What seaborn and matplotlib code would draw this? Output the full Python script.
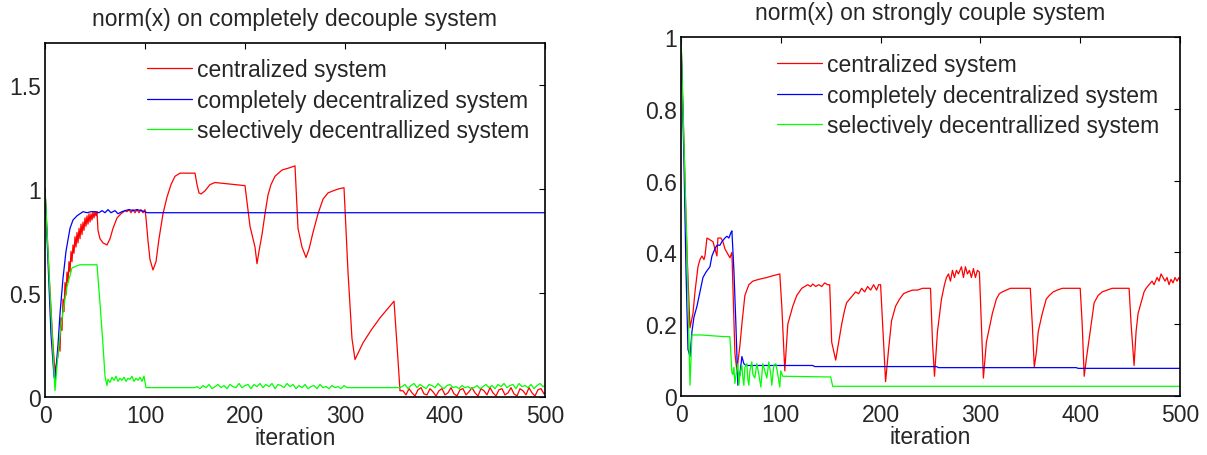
import numpy as np
import pandas as pd
import matplotlib
matplotlib.use("Agg")
import matplotlib.pyplot as plt
import seaborn as sns

# ---------------------------------------------------------------- data
labels = ["centralized system",
          "completely decentralized system",
          "selectively decentrallized system"]
colors = ["#ff0000", "#0000ff", "#00ff00"]

# ---- completely decoupled system -------------------------------------
dec_red_x = [0, 4, 8, 10, 13, 14, 15, 16, 17, 18, 19, 20, 21, 22, 23, 24, 25, 26,
             27, 28, 29, 30, 31, 32, 33, 34, 35, 36, 37, 38, 39, 40, 41, 42, 43,
             44, 45, 46, 47, 48, 49, 50, 51, 52, 53, 55, 58, 62, 65, 68, 72, 76,
             80, 82, 84, 86, 88, 90, 92, 94, 96, 98, 100, 101, 103, 105, 108,
             111, 114, 118, 122, 126, 130, 135, 150, 152, 154, 156, 160, 165,
             170, 180, 190, 200, 203, 205, 208, 210, 212, 214, 217, 220, 223,
             226, 230, 237, 244, 250, 253, 257, 261, 264, 268, 273, 278, 283,
             288, 294, 299, 303, 307, 310, 314, 318, 326, 335, 342, 349, 352, 355]
dec_red_y = [1.0, 0.6, 0.25, 0.12, 0.2, 0.27, 0.22, 0.38, 0.32, 0.47, 0.41, 0.55,
             0.49, 0.6, 0.55, 0.65, 0.6, 0.7, 0.65, 0.73, 0.69, 0.77, 0.72, 0.79,
             0.74, 0.81, 0.76, 0.83, 0.78, 0.84, 0.8, 0.86, 0.82, 0.87, 0.83, 0.88,
             0.84, 0.88, 0.85, 0.89, 0.86, 0.89, 0.87, 0.89, 0.8, 0.76, 0.74, 0.73,
             0.76, 0.81, 0.86, 0.88, 0.895, 0.89, 0.9, 0.885, 0.9, 0.885, 0.9,
             0.885, 0.9, 0.885, 0.9, 0.86, 0.75, 0.66, 0.61, 0.65, 0.76, 0.88,
             0.96, 1.02, 1.06, 1.075, 1.075, 1.02, 0.98, 0.975, 0.99, 1.02, 1.03,
             1.025, 1.02, 1.015, 0.9, 0.82, 0.76, 0.72, 0.64, 0.7, 0.78, 0.88,
             0.97, 1.02, 1.06, 1.09, 1.1, 1.11, 0.81, 0.72, 0.67, 0.71, 0.79,
             0.88, 0.95, 0.98, 0.99, 1.0, 1.005, 0.6, 0.28, 0.18, 0.22, 0.26,
             0.32, 0.38, 0.42, 0.46, 0.25, 0.03]
# red ripple after iteration 355 (every 3rd iteration from 358)
dec_red_tail = [0.03, 0.01, 0.04, 0.02, 0.005, 0.035, 0.045, 0.015, 0.01, 0.04,
                0.025, 0.005, 0.03, 0.04, 0.01, 0.02, 0.045, 0.015, 0.005, 0.035,
                0.04, 0.01, 0.025, 0.045, 0.02, 0.005, 0.04, 0.03, 0.01, 0.045,
                0.02, 0.005, 0.035, 0.04, 0.01, 0.02, 0.045, 0.015, 0.005, 0.04,
                0.03, 0.01, 0.045, 0.02, 0.005, 0.035, 0.04, 0.015]

dec_blue_x = [0, 3, 6, 9, 10, 13, 15, 18, 21, 25, 28, 32, 35, 38, 42, 46, 50, 54,
              57, 60, 63, 66, 70, 73, 77, 80, 84, 88, 92, 96, 100, 102, 500]
dec_blue_y = [1.0, 0.65, 0.3, 0.1, 0.08, 0.25, 0.4, 0.57, 0.7, 0.81, 0.85, 0.87,
              0.88, 0.89, 0.885, 0.89, 0.89, 0.885, 0.895, 0.885, 0.9, 0.885,
              0.895, 0.88, 0.89, 0.895, 0.9, 0.895, 0.9, 0.895, 0.89, 0.885, 0.885]

dec_green_x = [0, 5, 10, 12, 15, 18, 22, 27, 32, 35, 52, 55, 58, 60, 62]
dec_green_y = [1.0, 0.5, 0.03, 0.15, 0.3, 0.41, 0.53, 0.62, 0.63, 0.635, 0.635,
               0.45, 0.25, 0.1, 0.055]
# chatter between 63 and 99 (every 2nd iteration)
dec_green_chatter1 = [0.085, 0.07, 0.095, 0.08, 0.1, 0.075, 0.09, 0.08, 0.095,
                      0.075, 0.09, 0.085, 0.1, 0.075, 0.09, 0.08, 0.095, 0.075, 0.1]
# chatter between 152 and 302 (every 3rd iteration)
dec_green_chatter2 = [0.05, 0.04, 0.055, 0.045, 0.06, 0.04, 0.05, 0.06, 0.045,
                      0.055, 0.04, 0.06, 0.05, 0.045, 0.065, 0.045, 0.055, 0.06,
                      0.04, 0.06, 0.05, 0.065, 0.045, 0.06, 0.05, 0.065, 0.04,
                      0.06, 0.055, 0.045, 0.065, 0.05, 0.06, 0.04, 0.055, 0.045,
                      0.06, 0.04, 0.05, 0.055, 0.04, 0.06, 0.045, 0.05, 0.04,
                      0.055, 0.045, 0.05, 0.04, 0.055, 0.045]
# chatter from 357 to the end (every 3rd iteration)
dec_green_chatter3 = [0.05, 0.06, 0.04, 0.055, 0.065, 0.045, 0.06, 0.05, 0.04,
                      0.06, 0.055, 0.045, 0.065, 0.05, 0.04, 0.055, 0.06, 0.045,
                      0.05, 0.04, 0.055, 0.045, 0.05, 0.04, 0.045, 0.055, 0.04,
                      0.05, 0.06, 0.045, 0.055, 0.04, 0.06, 0.05, 0.065, 0.045,
                      0.055, 0.06, 0.04, 0.065, 0.05, 0.055, 0.045, 0.06, 0.04,
                      0.055, 0.065, 0.05]

# ---- strongly coupled system -----------------------------------------
cpl_red_x = [0, 3, 6, 9, 12, 14, 17, 19, 21, 23, 24, 26, 29, 32, 34, 36, 37, 40,
             42, 44, 46, 49, 51, 54, 56, 59, 61, 64, 68, 72, 78, 86, 92, 99, 101,
             104, 107, 109, 112, 116, 121, 124, 127, 130, 132, 135, 138, 141, 144,
             147, 149, 151, 155, 158, 161, 164, 166, 169, 172, 175, 178, 181, 184,
             187, 190, 193, 196, 198, 200, 203, 205, 208, 211, 215, 219, 223, 227,
             232, 237, 242, 246, 250, 252, 254, 257, 261, 264, 266, 268, 270, 272,
             274, 276, 278, 281, 283, 285, 287, 289, 291, 293, 295, 297, 299, 301,
             303, 306, 309, 312, 316, 319, 322, 326, 330, 336, 343, 350, 352, 354,
             356, 358, 362, 366, 369, 373, 377, 382, 388, 394, 400, 402, 404, 406,
             409, 412, 414, 418, 422, 427, 432, 440, 449, 451, 454, 456, 458, 461,
             464, 466, 469, 472, 474, 477, 479, 481, 483, 485, 487, 489, 491, 493,
             495, 497, 499, 500]
cpl_red_y = [1.0, 0.7, 0.4, 0.19, 0.23, 0.29, 0.36, 0.38, 0.39, 0.38, 0.39, 0.44,
             0.435, 0.43, 0.41, 0.39, 0.44, 0.44, 0.43, 0.41, 0.4, 0.385, 0.4,
             0.12, 0.07, 0.14, 0.2, 0.28, 0.31, 0.32, 0.325, 0.33, 0.335, 0.34,
             0.25, 0.07, 0.2, 0.22, 0.25, 0.28, 0.3, 0.305, 0.31, 0.305, 0.312,
             0.305, 0.31, 0.305, 0.315, 0.31, 0.31, 0.15, 0.1, 0.15, 0.2, 0.24,
             0.26, 0.27, 0.28, 0.29, 0.285, 0.3, 0.29, 0.305, 0.295, 0.31, 0.295,
             0.31, 0.31, 0.15, 0.04, 0.13, 0.21, 0.25, 0.27, 0.285, 0.29, 0.295,
             0.295, 0.3, 0.3, 0.3, 0.15, 0.055, 0.18, 0.27, 0.31, 0.33, 0.34,
             0.32, 0.35, 0.33, 0.35, 0.34, 0.36, 0.33, 0.36, 0.34, 0.35, 0.33,
             0.355, 0.33, 0.35, 0.345, 0.2, 0.05, 0.15, 0.19, 0.23, 0.27, 0.285,
             0.29, 0.295, 0.3, 0.3, 0.3, 0.3, 0.2, 0.08, 0.12, 0.18, 0.23, 0.27,
             0.28, 0.29, 0.295, 0.3, 0.3, 0.3, 0.3, 0.2, 0.055, 0.1, 0.16, 0.22,
             0.26, 0.28, 0.29, 0.295, 0.3, 0.3, 0.3, 0.2, 0.085, 0.18, 0.23, 0.26,
             0.29, 0.3, 0.31, 0.32, 0.31, 0.33, 0.32, 0.34, 0.33, 0.32, 0.33,
             0.31, 0.325, 0.315, 0.33, 0.32, 0.33, 0.32]

cpl_blue_x = [0, 3, 5, 7, 9, 11, 13, 16, 19, 22, 25, 29, 31, 34, 36, 39, 41, 44,
              46, 48, 50, 51, 53, 55, 57, 59, 61, 63, 65, 132, 134, 256, 258, 396,
              398, 500]
cpl_blue_y = [1.0, 0.65, 0.35, 0.13, 0.11, 0.18, 0.22, 0.25, 0.29, 0.33, 0.345,
              0.36, 0.39, 0.41, 0.42, 0.42, 0.43, 0.44, 0.445, 0.44, 0.455, 0.46,
              0.35, 0.2, 0.03, 0.06, 0.11, 0.09, 0.085, 0.085, 0.082, 0.082,
              0.079, 0.079, 0.077, 0.077]

cpl_green_x = [0, 3, 6, 9, 11, 20, 30, 40, 49, 51, 52, 53, 54, 55, 57, 58, 59, 61,
               62, 63, 64, 66, 67, 68, 69, 71, 72, 74, 76, 78, 80, 82, 84, 86, 88,
               90, 91, 93, 95, 97, 99, 100, 102, 150, 152, 500]
cpl_green_y = [1.0, 0.7, 0.4, 0.03, 0.17, 0.17, 0.168, 0.166, 0.165, 0.065, 0.06,
               0.08, 0.035, 0.055, 0.09, 0.03, 0.06, 0.085, 0.05, 0.03, 0.08, 0.09,
               0.045, 0.03, 0.07, 0.095, 0.06, 0.05, 0.09, 0.06, 0.025, 0.09, 0.07,
               0.05, 0.095, 0.06, 0.03, 0.085, 0.09, 0.06, 0.025, 0.07, 0.055,
               0.053, 0.027, 0.027]


def stepped(start, step, values):
    """Iteration numbers for values logged every `step` iterations."""
    return [start + step * i for i in range(len(values))]


# assemble the full traces
dec_red = (dec_red_x + stepped(358, 3, dec_red_tail) + [500],
           dec_red_y + dec_red_tail + [0.02])
dec_blue = (dec_blue_x, dec_blue_y)
dec_green = (dec_green_x + stepped(63, 2, dec_green_chatter1)
             + [101, 150] + stepped(152, 3, dec_green_chatter2)
             + [304, 355] + stepped(357, 3, dec_green_chatter3) + [500],
             dec_green_y + dec_green_chatter1 + [0.045, 0.045]
             + dec_green_chatter2 + [0.045, 0.045] + dec_green_chatter3 + [0.055])
cpl_red = (cpl_red_x, cpl_red_y)
cpl_blue = (cpl_blue_x, cpl_blue_y)
cpl_green = (cpl_green_x, cpl_green_y)


def long_frame(traces):
    parts = []
    for name, (xs, ys) in zip(labels, traces):
        parts.append(pd.DataFrame({"iteration": xs, "norm": ys, "series": name}))
    return pd.concat(parts, ignore_index=True)


df_dec = long_frame([dec_red, dec_blue, dec_green])
df_cpl = long_frame([cpl_red, cpl_blue, cpl_green])

# ---------------------------------------------------------------- style
sns.set_style("white")
plt.rcParams["font.family"] = ["Liberation Sans", "DejaVu Sans"]
plt.rcParams["xtick.direction"] = "in"
plt.rcParams["ytick.direction"] = "in"

W, H = 1207, 456
fig = plt.figure(figsize=(W / 100, H / 100), dpi=100)
FS = 16.5


def px_axes(left, top, right, bottom):
    return fig.add_axes([left / W, 1 - bottom / H, (right - left) / W, (bottom - top) / H])


ax1 = px_axes(45, 44, 545, 398)
ax2 = px_axes(681, 38, 1180, 397)

palette = dict(zip(labels, colors))
for ax, df in [(ax1, df_dec), (ax2, df_cpl)]:
    sns.lineplot(data=df, x="iteration", y="norm", hue="series", hue_order=labels,
                 palette=palette, estimator=None, sort=False, linewidth=0.9,
                 ax=ax, legend=True)

ax1.set_xlim(0, 500)
ax1.set_ylim(0, 1.7)
ax1.set_yticks([0, 0.5, 1, 1.5])
ax1.set_yticklabels(["0", "0.5", "1", "1.5"])
ax2.set_xlim(0, 500)
ax2.set_ylim(0, 1)
ax2.set_yticks([0, 0.2, 0.4, 0.6, 0.8, 1])
ax2.set_yticklabels(["0", "0.2", "0.4", "0.6", "0.8", "1"])

for ax in (ax1, ax2):
    ax.set_xticks([0, 100, 200, 300, 400, 500])
    ax.set_ylabel("")
    ax.set_xlabel("iteration", fontsize=FS, labelpad=-1)
    ax.tick_params(axis="x", which="both", pad=5)
    ax.tick_params(axis="y", which="both", pad=3)
    ax.tick_params(axis="both", which="both", labelsize=FS, length=4, width=0.8,
                   color="black", top=True, right=True, direction="in")
    for s in ax.spines.values():
        s.set_visible(True)
        s.set_color("black")
        s.set_linewidth(1.2)

ax1.set_title("norm(x) on completely decouple system", fontsize=FS, pad=13)
ax2.set_title("norm(x) on strongly couple system", fontsize=FS, pad=13)

leg_kw = dict(frameon=False, fontsize=FS, handlelength=1.95, handletextpad=0.25,
              labelspacing=0.33, borderpad=0, borderaxespad=0, loc="upper left")
h1, l1 = ax1.get_legend_handles_labels()
ax1.legend(h1, l1, bbox_to_anchor=(147 / W, 1 - 59 / H),
           bbox_transform=fig.transFigure, **leg_kw)
h2, l2 = ax2.get_legend_handles_labels()
ax2.legend(h2, l2, bbox_to_anchor=(777 / W, 1 - 54 / H),
           bbox_transform=fig.transFigure, **leg_kw)

fig.savefig("out.png", dpi=100, facecolor="white")
